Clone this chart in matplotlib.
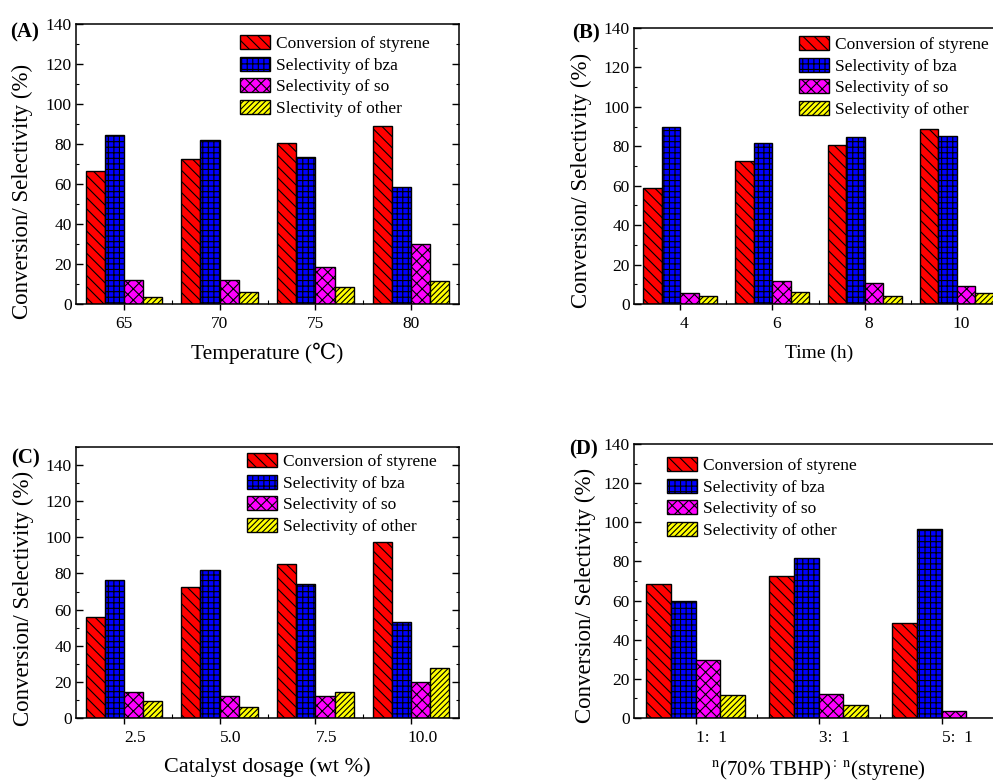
import matplotlib
matplotlib.use("Agg")
import matplotlib.pyplot as plt
import matplotlib.transforms as mtransforms
from matplotlib.ticker import FixedLocator, MultipleLocator
import numpy as np

plt.rcParams['font.family'] = ['Liberation Serif', 'DejaVu Serif']
plt.rcParams['mathtext.fontset'] = 'stix'
plt.rcParams['hatch.linewidth'] = 0.8

# ---------------- data ----------------
labels_std = ['Conversion of styrene', 'Selectivity of bza',
              'Selectivity of so', 'Selectivity of other']
labels_A = ['Conversion of styrene', 'Selectivity of bza',
            'Selectivity of so', 'Slectivity of other']

cats_A = ['65', '70', '75', '80']
conv_A = [66.6, 72.6, 80.7, 89.1]
bza_A = [84.4, 81.9, 73.4, 58.4]
so_A = [12.0, 12.0, 18.6, 30.0]
other_A = [3.7, 6.2, 8.5, 11.5]

cats_B = ['4', '6', '8', '10']
conv_B = [58.7, 72.5, 80.9, 89.0]
bza_B = [89.7, 81.8, 84.7, 85.2]
so_B = [5.6, 11.6, 10.8, 9.3]
other_B = [4.2, 5.9, 4.2, 5.4]

cats_C = ['2.5', '5.0', '7.5', '10.0']
conv_C = [56.0, 72.6, 85.5, 97.6]
bza_C = [76.3, 82.0, 74.1, 52.9]
so_C = [14.4, 12.3, 12.3, 19.9]
other_C = [9.6, 6.3, 14.4, 27.6]

cats_D = ['1:  1', '3:  1', '5:  1']
conv_D = [68.6, 72.6, 48.4]
bza_D = [59.6, 81.8, 96.7]
so_D = [29.5, 12.3, 3.4]
other_D = [11.6, 6.5, 0.0]

colors = ['#FF0000', '#0000FF', '#FF00FF', '#FFFF00']
hatches = ['\\\\\\', '+++', 'xxx', '//////']

W, H = 993, 782
fig = plt.figure(figsize=(W / 100, H / 100), dpi=100)


def px_rect(left, top, right, bottom):
    return [left / W, 1 - bottom / H, (right - left) / W, (bottom - top) / H]


def panel(rect, cats, series, labels, ymax, tag, tag_xy, xlabel, xlabel_xy,
          xlabel_size, ylabel_xy, leg_xy, xoff):
    ax = fig.add_axes(px_rect(*rect))
    n = len(cats)
    x = np.arange(1, n + 1)
    bw = 0.2
    handles = []
    for j, (vals, c, h, lab) in enumerate(zip(series, colors, hatches, labels)):
        b = ax.bar(x + (j - 1.5) * bw, vals, width=bw, color=c, edgecolor='black',
                   hatch=h, linewidth=1.0, label=lab, zorder=2)
        handles.append(b)
    ax.set_xlim(0.5, n + 0.5)
    ax.set_ylim(0, ymax)
    ax.set_xticks(x)
    ax.set_xticklabels(cats, fontsize=12.5)
    ax.xaxis.set_minor_locator(FixedLocator(np.arange(1.5, n, 1.0)))
    ax.set_yticks(np.arange(0, 141, 20))
    ax.yaxis.set_minor_locator(MultipleLocator(10))
    ax.tick_params(axis='y', which='major', direction='in', length=5, width=1,
                   right=True, labelsize=12.5, pad=3)
    ax.tick_params(axis='y', which='minor', direction='in', length=2.5, width=0.8,
                   right=True)
    ax.tick_params(axis='x', which='major', direction='out', length=4.5, width=1,
                   pad=4)
    ax.tick_params(axis='x', which='minor', direction='in', length=3, width=0.8)
    for s in ax.spines.values():
        s.set_linewidth(1.1)
    off = mtransforms.ScaledTranslation(xoff / 100, 0, fig.dpi_scale_trans)
    for t in ax.get_xticklabels():
        t.set_transform(t.get_transform() + off)
    fig.legend(handles=handles, loc='upper left',
               bbox_to_anchor=(leg_xy[0] / W, 1 - leg_xy[1] / H),
               bbox_transform=fig.transFigure, frameon=False,
               fontsize=12.5, borderpad=0, borderaxespad=0,
               handlelength=1.75, handleheight=0.9, handletextpad=0.3,
               labelspacing=0.25)
    fig.text(tag_xy[0] / W, 1 - tag_xy[1] / H, tag, fontsize=15, fontweight='bold',
             ha='center', va='center')
    fig.text(xlabel_xy[0] / W, 1 - xlabel_xy[1] / H, xlabel, fontsize=xlabel_size,
             ha='center', va='center')
    fig.text(ylabel_xy[0] / W, 1 - ylabel_xy[1] / H, 'Conversion/ Selectivity (%)',
             fontsize=16.5, rotation=90, ha='center', va='center')
    return ax


panel((76, 24, 459, 304), cats_A, [conv_A, bza_A, so_A, other_A], labels_A, 140,
      '(A)', (25, 32), 'Temperature (\u2103)', (267, 353), 15.5, (22, 191),
      (240, 35), 0)
panel((634, 28, 1003, 304), cats_B, [conv_B, bza_B, so_B, other_B], labels_std, 140,
      '(B)', (586, 33), 'Time (h)', (819, 353), 14, (581, 180),
      (799, 36), 4)
panel((76, 447, 459, 718), cats_C, [conv_C, bza_C, so_C, other_C], labels_std, 150,
      '(C)', (25, 458), 'Catalyst dosage (wt %)', (267, 767), 16, (23, 598),
      (247, 453), 11)
panel((634, 444, 1003, 718), cats_D, [conv_D, bza_D, so_D, other_D], labels_std, 140,
      '(D)', (584, 449), r'${}^{\mathrm{n}}$(70% TBHP)${}^{\mathrm{:\ n}}$(styrene)',
      (818, 770), 15, (585, 595), (667, 457), 16)

fig.savefig('out.png', dpi=100)
